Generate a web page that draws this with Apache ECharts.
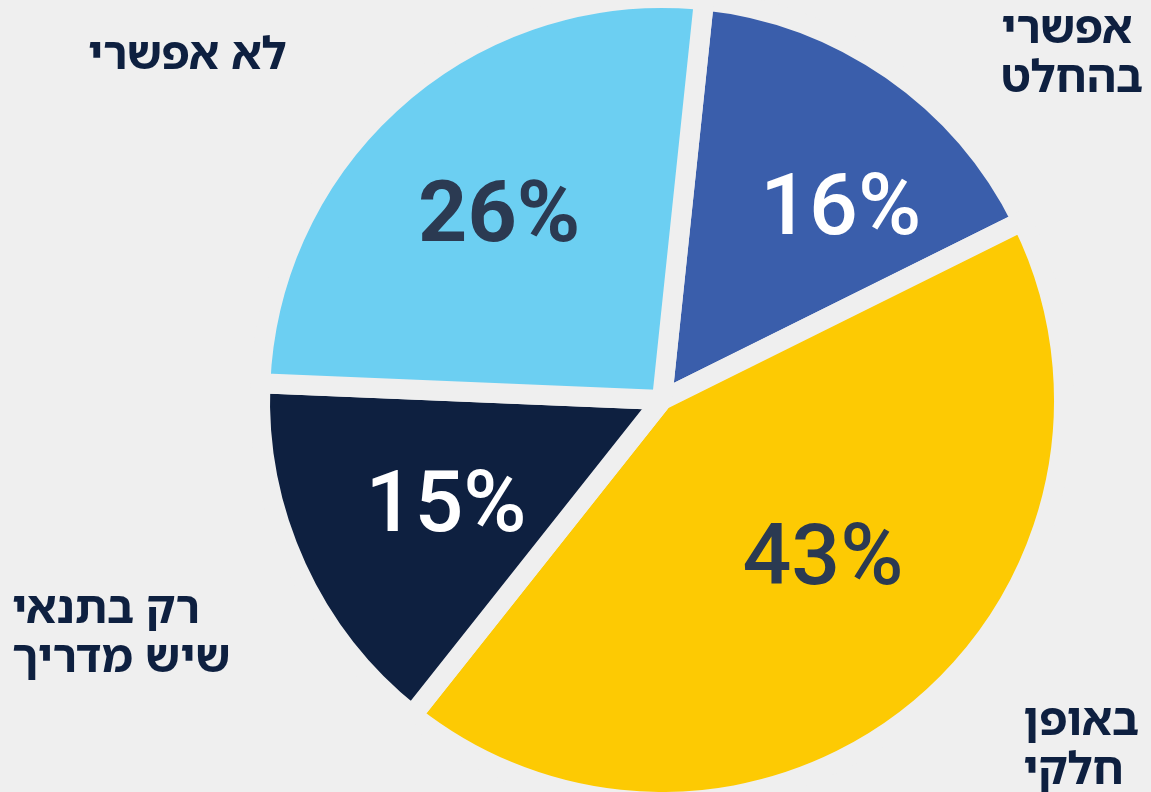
<!DOCTYPE html>
<html lang="he">
<head>
    <meta charset="utf-8" />
    <title>pie</title>
    <style>
        html,
        body {
            width: 100%;
            height: 100%;
            margin: 0;
            background: #efefef;
        }

        #main {
            width: 1151px;
            height: 792px;
        }
    </style>
</head>
<body>
    <div id="main"></div>
    <script src="https://cdn.jsdelivr.net/npm/echarts@6/dist/echarts.min.js"></script>
    <script type="text/javascript">
        // slice order clockwise from the top
        var names = ['אפשרי בהחלט', 'באופן חלקי', 'רק בתנאי שיש מדריך', 'לא אפשרי'];
        var values = [16, 43, 15, 26];
        var colors = ['#3a5eab', '#fdca03', '#0e2040', '#6ccff2'];
        var labelColors = ['#ffffff', '#2b3a52', '#ffffff', '#2b3a52'];

        var bg = '#efefef';
        var chart = echarts.init(document.getElementById('main'));

        // nudges for the percentage labels (layout only)
        var labelNudge = [[40, 12], [8, -26], [5, 8], [-4, 3]];

        var pieData = values.map(function (v, i) {
            return {
                name: names[i],
                value: v,
                itemStyle: { color: colors[i] }
            };
        });

        var labelData = values.map(function (v, i) {
            return {
                name: names[i],
                value: v,
                label: {
                    color: labelColors[i],
                    fontWeight: i === 3 ? 700 : 500,
                    offset: labelNudge[i]
                }
            };
        });

        var nameFont = {
            fontFamily: '"Noto Sans Hebrew", "Liberation Sans", "DejaVu Sans", sans-serif',
            fontSize: 45,
            fontWeight: 'bold',
            fill: '#0e2040',
            lineHeight: 49
        };

        option = {
            backgroundColor: bg,
            animation: false,
            series: [{
                type: 'pie',
                center: [662, 400],
                radius: [0, 402],
                startAngle: 84,
                clockwise: true,
                silent: true,
                label: { show: false },
                labelLine: { show: false },
                itemStyle: {
                    borderColor: bg,
                    borderWidth: 20
                },
                data: pieData
            }, {
                type: 'pie',
                center: [662, 400],
                radius: [80, 400],
                startAngle: 84,
                clockwise: true,
                silent: true,
                itemStyle: { color: 'transparent' },
                label: {
                    show: true,
                    position: 'inside',
                    formatter: '{c}%',
                    fontFamily: 'Roboto, "Open Sans", sans-serif',
                    fontSize: 86
                },
                labelLine: { show: false },
                data: labelData
            }],
            graphic: [{
                type: 'text',
                left: 88,
                top: 32,
                style: Object.assign({ text: names[3], align: 'right' }, nameFont)
            }, {
                type: 'text',
                right: 8,
                top: 6,
                style: Object.assign({ text: 'אפשרי\nבהחלט', align: 'right' }, nameFont)
            }, {
                type: 'text',
                left: 12,
                top: 586,
                style: Object.assign({ text: 'רק בתנאי\nשיש מדריך', align: 'right' }, nameFont)
            }, {
                type: 'text',
                right: 12,
                top: 698,
                style: Object.assign({ text: 'באופן\nחלקי', align: 'center' }, nameFont)
            }]
        };

        chart.setOption(option);
    </script>
</body>
</html>
